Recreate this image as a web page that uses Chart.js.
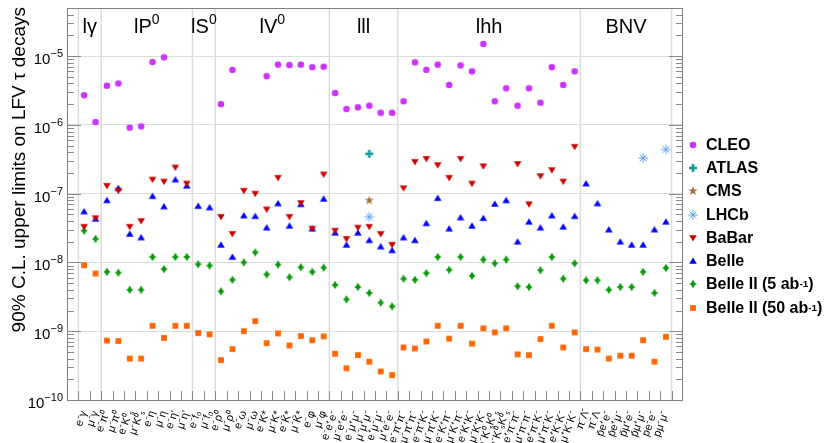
<!DOCTYPE html>
<html>
<head>
<meta charset="utf-8">
<script src="https://cdn.jsdelivr.net/npm/chart.js@4.4.1/dist/chart.umd.min.js"></script>
<style>
  html, body { margin: 0; padding: 0; background: #fff; }
  #wrap { position: relative; width: 828px; height: 443px; overflow: hidden; }
  #c { position: absolute; left: 0; top: 0; }
  .legend { position: absolute; left: 686px; top: 133px; font: bold 16px "Liberation Sans", Arial, sans-serif; color: #000; }
  .legend-item { display: flex; align-items: center; height: 23.3px; white-space: nowrap; }
  .legend-swatch { width: 14px; height: 14px; margin-right: 6px; }
  .legend sup { font-size: 0.62em; line-height: 0; }
</style>
</head>
<body>
<div id="wrap">
  <canvas id="c" width="828" height="443"></canvas>
  <div class="legend" id="legend"></div>
</div>
<script>
// LFV tau decay upper limits (log scale), one column per decay mode.

const cats = [
  'e⁻γ', 'μ⁻γ',
  'e⁻π⁰', 'μ⁻π⁰', 'e⁻K⁰ₛ', 'μ⁻K⁰ₛ', 'e⁻η', 'μ⁻η', "e⁻η'", "μ⁻η'",
  'e⁻f₀', 'μ⁻f₀',
  'e⁻ρ⁰', 'μ⁻ρ⁰', 'e⁻ω', 'μ⁻ω', 'e⁻K*', 'μ⁻K*', 'e⁻K\u0304*', 'μ⁻K\u0304*', 'e⁻φ', 'μ⁻φ',
  'e⁻e⁺e⁻', 'μ⁻e⁺e⁻', 'e⁻μ⁺μ⁻', 'μ⁻μ⁺μ⁻', 'e⁺μ⁻μ⁻', 'μ⁺e⁻e⁻',
  'e⁻π⁺π⁻', 'μ⁻π⁺π⁻', 'e⁻π⁺K⁻', 'μ⁻π⁺K⁻', 'e⁻K⁺π⁻', 'μ⁻K⁺π⁻', 'e⁻K⁺K⁻', 'μ⁻K⁺K⁻',
  'e⁻K⁰ₛK⁰ₛ', 'μ⁻K⁰ₛK⁰ₛ', 'e⁺π⁻π⁻', 'μ⁺π⁻π⁻', 'e⁺π⁻K⁻', 'μ⁺π⁻K⁻', 'e⁺K⁻K⁻', 'μ⁺K⁻K⁻',
  'π⁻Λ\u0304', 'π⁻Λ', 'p\u0304e⁺e⁻', 'p\u0304e⁺μ⁻', 'p\u0304μ⁺e⁻', 'p\u0304μ⁺μ⁻', 'pe⁻e⁻', 'pμ⁻μ⁻'
];

// group boundaries (in column units) and their titles
const groupEdges = [0, 2, 10, 12, 22, 28, 44, 52];
const groupBase = ['lγ', 'lP', 'lS', 'lV', 'lll', 'lhh', 'BNV'];
const groupSup = ['', '0', '0', '0', '', '', ''];

// y decades that get a label
const yDecades = [-10, -9, -8, -7, -6, -5];

const cleo = [
  2.7e-6, 1.1e-6,
  3.7e-6, 4.0e-6, 9.1e-7, 9.5e-7, 8.2e-6, 9.6e-6, null, null,
  null, null,
  2.0e-6, 6.3e-6, null, null, 5.1e-6, 7.5e-6, 7.4e-6, 7.5e-6, 6.9e-6, 7.0e-6,
  2.9e-6, 1.7e-6, 1.8e-6, 1.9e-6, 1.5e-6, 1.5e-6,
  2.2e-6, 8.1e-6, 6.3e-6, 7.5e-6, 3.8e-6, 7.3e-6, 6.0e-6, 1.5e-5,
  2.2e-6, 3.4e-6, 1.9e-6, 3.4e-6, 2.1e-6, 6.9e-6, 3.8e-6, 6.0e-6,
  null, null, null, null, null, null, null, null
];

const atlasIdx = [25];
const atlasVals = [3.8e-7];
const cmsIdx = [25];
const cmsVals = [8.0e-8];
const lhcbIdx = [25, 49, 51];
const lhcbVals = [4.6e-8, 3.3e-7, 4.4e-7];

const babar = [
  3.3e-8, 4.4e-8,
  1.3e-7, 1.1e-7, 3.3e-8, 4.0e-8, 1.6e-7, 1.5e-7, 2.4e-7, 1.4e-7,
  null, null,
  4.6e-8, 2.6e-8, 1.1e-7, 1.0e-7, 5.9e-8, 1.7e-7, 4.6e-8, 7.3e-8, 3.1e-8, 1.9e-7,
  2.9e-8, 2.2e-8, 3.2e-8, 3.3e-8, 2.6e-8, 1.8e-8,
  1.2e-7, 2.9e-7, 3.2e-7, 2.6e-7, 1.7e-7, 3.2e-7, 1.4e-7, 2.5e-7,
  null, null, 2.7e-7, 7.0e-8, 1.8e-7, 2.2e-7, 1.5e-7, 4.8e-7,
  null, null, null, null, null, null, null, null
];

const belle = [
  5.5e-8, 4.3e-8,
  8.0e-8, 1.2e-7, 2.6e-8, 2.3e-8, 9.2e-8, 6.5e-8, 1.6e-7, 1.3e-7,
  6.6e-8, 6.3e-8,
  1.8e-8, 1.2e-8, 4.8e-8, 4.7e-8, 3.2e-8, 7.2e-8, 3.4e-8, 7.0e-8, 3.1e-8, 8.4e-8,
  2.7e-8, 1.8e-8, 2.7e-8, 2.1e-8, 1.7e-8, 1.5e-8,
  2.3e-8, 2.1e-8, 3.7e-8, 8.6e-8, 3.1e-8, 4.5e-8, 3.4e-8, 4.4e-8,
  7.1e-8, 8.0e-8, 2.0e-8, 3.9e-8, 3.2e-8, 4.8e-8, 3.3e-8, 4.7e-8,
  1.4e-7, 7.2e-8, 3.0e-8, 2.0e-8, 1.8e-8, 1.8e-8, 3.0e-8, 3.9e-8
];

const belle2_5 = [
  2.9e-8, 2.2e-8,
  7.3e-9, 7.1e-9, 4.0e-9, 4.0e-9, 1.2e-8, 8.0e-9, 1.2e-8, 1.2e-8,
  9.4e-9, 9.0e-9,
  3.8e-9, 5.6e-9, 1.0e-8, 1.4e-8, 6.7e-9, 9.3e-9, 6.1e-9, 8.5e-9, 7.3e-9, 8.4e-9,
  4.7e-9, 2.9e-9, 4.4e-9, 3.6e-9, 2.6e-9, 2.3e-9,
  5.8e-9, 5.6e-9, 7.0e-9, 1.2e-8, 7.8e-9, 1.2e-8, 6.4e-9, 1.1e-8,
  9.7e-9, 1.1e-8, 4.5e-9, 4.4e-9, 7.7e-9, 1.2e-8, 5.8e-9, 9.7e-9,
  5.5e-9, 5.5e-9, 4.0e-9, 4.4e-9, 4.4e-9, 7.3e-9, 3.6e-9, 8.3e-9
];

const belle2_50 = [
  9.1e-9, 6.9e-9,
  7.3e-10, 7.2e-10, 4.0e-10, 4.0e-10, 1.2e-9, 8.0e-10, 1.2e-9, 1.2e-9,
  9.4e-10, 9.0e-10,
  3.8e-10, 5.5e-10, 1.0e-9, 1.4e-9, 6.7e-10, 9.3e-10, 6.2e-10, 8.5e-10, 7.4e-10, 8.4e-10,
  4.7e-10, 2.9e-10, 4.5e-10, 3.6e-10, 2.6e-10, 2.3e-10,
  5.8e-10, 5.6e-10, 7.1e-10, 1.2e-9, 7.8e-10, 1.2e-9, 6.6e-10, 1.1e-9,
  9.6e-10, 1.1e-9, 4.6e-10, 4.5e-10, 7.7e-10, 1.2e-9, 5.8e-10, 9.6e-10,
  5.5e-10, 5.4e-10, 4.0e-10, 4.4e-10, 4.4e-10, 7.4e-10, 3.6e-10, 8.3e-10
];

const yTitle = '90% C.L. upper limits on LFV τ decays';
const FONT = '"Liberation Sans", Arial, Helvetica, sans-serif';

// ---- ROOT-ish markers drawn on small canvases (used for points + legend) ----
function marker(kind, color) {
  const c = document.createElement('canvas');
  c.width = c.height = 14;
  const g = c.getContext('2d');
  const m = 7;
  g.fillStyle = color;
  g.strokeStyle = color;
  g.beginPath();
  if (kind === 'circle') {
    g.arc(m, m, 3.3, 0, Math.PI * 2); g.fill();
  } else if (kind === 'up') {
    g.moveTo(m, m - 3.6); g.lineTo(m + 3.8, m + 2.8); g.lineTo(m - 3.8, m + 2.8); g.closePath(); g.fill();
  } else if (kind === 'down') {
    g.moveTo(m, m + 3.6); g.lineTo(m + 3.8, m - 2.8); g.lineTo(m - 3.8, m - 2.8); g.closePath(); g.fill();
  } else if (kind === 'square') {
    g.rect(m - 2.9, m - 2.9, 5.8, 5.8); g.fill();
  } else if (kind === 'diamond') {
    g.moveTo(m, m - 4.3); g.lineTo(m + 2.6, m); g.lineTo(m, m + 4.3); g.lineTo(m - 2.6, m); g.closePath(); g.fill();
    g.fillRect(m - 3.3, m - 0.6, 6.6, 1.2);
  } else if (kind === 'cross') {
    g.fillRect(m - 4, m - 1.3, 8, 2.6); g.fillRect(m - 1.3, m - 4, 2.6, 8);
  } else if (kind === 'star') {
    for (let k = 0; k < 10; k++) {
      const r = k % 2 ? 2 : 4.8, a = -Math.PI / 2 + k * Math.PI / 5;
      const px = m + r * Math.cos(a), py = m + r * Math.sin(a);
      k ? g.lineTo(px, py) : g.moveTo(px, py);
    }
    g.closePath(); g.fill();
  } else if (kind === 'asterisk') {
    g.lineWidth = 1;
    for (let k = 0; k < 4; k++) {
      const a = k * Math.PI / 4;
      g.moveTo(m - 4.8 * Math.cos(a), m - 4.8 * Math.sin(a));
      g.lineTo(m + 4.8 * Math.cos(a), m + 4.8 * Math.sin(a));
    }
    g.stroke();
  }
  return c;
}

const toPts = arr => arr.map((v, i) => (v == null ? null : { x: i + 0.5, y: v })).filter(Boolean);
const toPtsIdx = (idx, vals) => idx.map((i, k) => ({ x: i + 0.5, y: vals[k] }));

const series = [
  { label: 'CLEO', data: toPts(cleo), img: marker('circle', '#cc33ff') },
  { label: 'ATLAS', data: toPtsIdx(atlasIdx, atlasVals), img: marker('cross', '#159c9c') },
  { label: 'CMS', data: toPtsIdx(cmsIdx, cmsVals), img: marker('star', '#a0703c') },
  { label: 'LHCb', data: toPtsIdx(lhcbIdx, lhcbVals), img: marker('asterisk', '#5ea0ee') },
  { label: 'BaBar', data: toPts(babar), img: marker('down', '#cc0000') },
  { label: 'Belle', data: toPts(belle), img: marker('up', '#0000ff') },
  { label: 'Belle II (5 ab<sup>-1</sup>)', data: toPts(belle2_5), img: marker('diamond', '#0a9a0a') },
  { label: 'Belle II (50 ab<sup>-1</sup>)', data: toPts(belle2_50), img: marker('square', '#ff6600') }
];

const isDecade = v => { const l = Math.log10(v); return Math.abs(l - Math.round(l)) < 1e-6; };

// separators, inner ticks, frame, group titles, y labels + title
const decor = {
  id: 'decor',
  beforeDatasetsDraw(chart) {
    const { ctx, chartArea: a, scales: { x, y } } = chart;
    ctx.save();
    ctx.lineWidth = 1.5;
    ctx.strokeStyle = '#dcdcdc';
    groupEdges.forEach(e => {
      const px = x.getPixelForValue(e);
      ctx.beginPath(); ctx.moveTo(px, a.top); ctx.lineTo(px, a.bottom); ctx.stroke();
    });
    ctx.lineWidth = 1;
    ctx.strokeStyle = '#8a8a8a';
    for (let e = 0; e <= cats.length; e++) {
      const px = Math.round(x.getPixelForValue(e)) + 0.5;
      ctx.beginPath(); ctx.moveTo(px, a.bottom); ctx.lineTo(px, a.bottom - 9); ctx.stroke();
    }
    for (let d = -10; d <= -5; d++) {
      for (let m = 1; m <= 9; m++) {
        const v = m * Math.pow(10, d);
        if (v > y.max) break;
        const py = Math.round(y.getPixelForValue(v)) + 0.5;
        const len = m === 1 ? 14 : 7;
        ctx.beginPath();
        ctx.moveTo(a.left, py); ctx.lineTo(a.left + len, py);
        ctx.moveTo(a.right, py); ctx.lineTo(a.right - len, py);
        ctx.stroke();
      }
    }
    ctx.restore();
  },
  afterDraw(chart) {
    const { ctx, chartArea: a, scales: { x, y } } = chart;
    ctx.save();
    ctx.strokeStyle = '#808080';
    ctx.lineWidth = 1;
    ctx.strokeRect(Math.round(a.left) + 0.5, Math.round(a.top) + 0.5, Math.round(a.right - a.left) - 1, Math.round(a.bottom - a.top));

    ctx.fillStyle = '#000';
    ctx.textBaseline = 'alphabetic';

    // 10^n labels with a raised, smaller exponent
    yDecades.forEach(d => {
      const py = y.getPixelForValue(Math.pow(10, d));
      const exp = '\u2212' + String(-d);
      ctx.font = '11px ' + FONT;
      const we = ctx.measureText(exp).width;
      ctx.textAlign = 'right';
      ctx.fillText(exp, 63, py + 1);
      ctx.font = '15px ' + FONT;
      ctx.fillText('10', 63 - we, py + 8);
    });

    groupBase.forEach((name, i) => {
      const cx = (x.getPixelForValue(groupEdges[i]) + x.getPixelForValue(groupEdges[i + 1])) / 2;
      ctx.font = '20px ' + FONT;
      const w1 = ctx.measureText(name).width;
      ctx.font = '14px ' + FONT;
      const w2 = groupSup[i] ? ctx.measureText(groupSup[i]).width : 0;
      const x0 = cx - (w1 + w2) / 2;
      ctx.font = '20px ' + FONT;
      ctx.textAlign = 'left';
      ctx.fillText(name, x0, 32.5);
      if (groupSup[i]) {
        ctx.font = '14px ' + FONT;
        ctx.fillText(groupSup[i], x0 + w1, 24);
      }
    });

    ctx.translate(25, 7);
    ctx.rotate(-Math.PI / 2);
    ctx.font = '19px ' + FONT;
    ctx.textAlign = 'right';
    ctx.fillText(yTitle, 0, 0);
    ctx.restore();
  }
};

Chart.defaults.font.family = FONT;
Chart.defaults.color = '#000';

new Chart(document.getElementById('c'), {
  type: 'scatter',
  data: {
    datasets: series.map(s => ({
      label: s.label,
      data: s.data,
      pointStyle: s.img,
      pointRadius: 5,
      pointHoverRadius: 5
    }))
  },
  options: {
    responsive: false,
    animation: false,
    layout: { padding: { top: 8, right: 145, left: 0, bottom: 0 } },
    plugins: { legend: { display: false }, tooltip: { enabled: false } },
    scales: {
      x: {
        type: 'linear',
        min: -1,
        max: 53,
        afterBuildTicks: scale => { scale.ticks = cats.map((c, i) => ({ value: i + 0.5 })); },
        afterFit: scale => { scale.height = 43; },
        grid: { display: false },
        border: { display: false },
        ticks: {
          autoSkip: false,
          minRotation: 70,
          maxRotation: 70,
          padding: 1,
          font: { size: 11 },
          callback: (v, i) => cats[i]
        }
      },
      y: {
        type: 'logarithmic',
        min: 1e-10,
        max: 5e-5,
        afterFit: scale => { scale.width = 67; },
        border: { display: false },
        grid: {
          drawTicks: false,
          lineWidth: 1,
          color: ctx => (ctx.tick && isDecade(ctx.tick.value) ? '#dcdcdc' : 'rgba(0,0,0,0)')
        },
        ticks: { display: false, autoSkip: false }
      }
    }
  },
  plugins: [decor]
});

document.getElementById('legend').innerHTML = series.map(s =>
  `<div class="legend-item"><img class="legend-swatch" src="${s.img.toDataURL()}">${s.label}</div>`
).join('');
</script>
</body>
</html>
